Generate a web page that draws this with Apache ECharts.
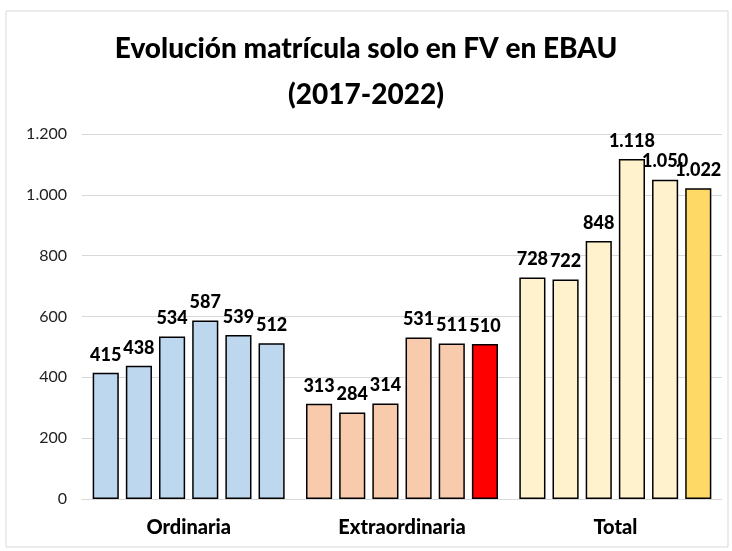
<!DOCTYPE html>
<html>
<head>
<meta charset="utf-8">
<script src="https://cdn.jsdelivr.net/npm/echarts@6/dist/echarts.min.js"></script>
<style>
  html, body { margin: 0; padding: 0; background: #fff; }
  #chart { width: 732px; height: 551px; }
</style>
</head>
<body>
<div id="chart"></div>
<script>
// data
const categories = ["Ordinaria", "Extraordinaria", "Total"];
const years = ["2017", "2018", "2019", "2020", "2021", "2022"];
const ordinaria = [415, 438, 534, 587, 539, 512];
const extraordinaria = [313, 284, 314, 531, 511, 510];
const total = [728, 722, 848, 1118, 1050, 1022];

const groupColors = ["#BDD7EE", "#F8CBAD", "#FFF2CC"];
const lastColors = ["#BDD7EE", "#FF0000", "#FFD966"];
const font = "Lato";

function fmt(v) {
  return String(v).replace(/\B(?=(\d{3})+(?!\d))/g, ".");
}

const chart = echarts.init(document.getElementById("chart"));

const series = years.map(function (y, i) {
  const vals = [ordinaria[i], extraordinaria[i], total[i]];
  const last = i === years.length - 1;
  return {
    name: y,
    type: "bar",
    barGap: "27%",
    barCategoryGap: "10%",
    data: vals.map(function (v, c) {
      return {
        value: v,
        itemStyle: { color: last ? lastColors[c] : groupColors[c] }
      };
    }),
    itemStyle: { borderColor: "#000", borderWidth: 1.5 },
    label: {
      show: true,
      position: "top",
      distance: 9,
      color: "#000",
      fontFamily: font,
      fontWeight: 900,
      fontSize: 18,
      formatter: function (p) { return fmt(p.value); }
    }
  };
});

chart.setOption({
  animation: false,
  title: {
    text: "Evolución matrícula solo en FV en EBAU\n(2017-2022)",
    left: "center",
    top: 21,
    textStyle: {
      fontFamily: font,
      fontWeight: 900,
      fontSize: 28,
      lineHeight: 46,
      color: "#000"
    }
  },
  graphic: [{
    type: "rect",
    shape: { x: 6, y: 11, width: 722, height: 536 },
    style: { fill: "none", stroke: "#d9d9d9", lineWidth: 1 },
    silent: true
  }],
  grid: { left: 82, right: 10, top: 134, bottom: 52 },
  xAxis: {
    type: "category",
    data: categories,
    axisTick: { show: false },
    axisLine: { lineStyle: { color: "#d9d9d9", width: 1 } },
    axisLabel: {
      color: "#000",
      fontFamily: font,
      fontWeight: 900,
      fontSize: 20,
      margin: 19
    }
  },
  yAxis: {
    type: "value",
    min: 0,
    max: 1200,
    interval: 200,
    axisLine: { show: false },
    axisTick: { show: false },
    splitLine: { lineStyle: { color: "#d9d9d9", width: 1 } },
    axisLabel: {
      color: "#222",
      fontFamily: font,
      fontSize: 16,
      margin: 15,
      formatter: function (v) { return fmt(v); }
    }
  },
  series: series
});
</script>
</body>
</html>
